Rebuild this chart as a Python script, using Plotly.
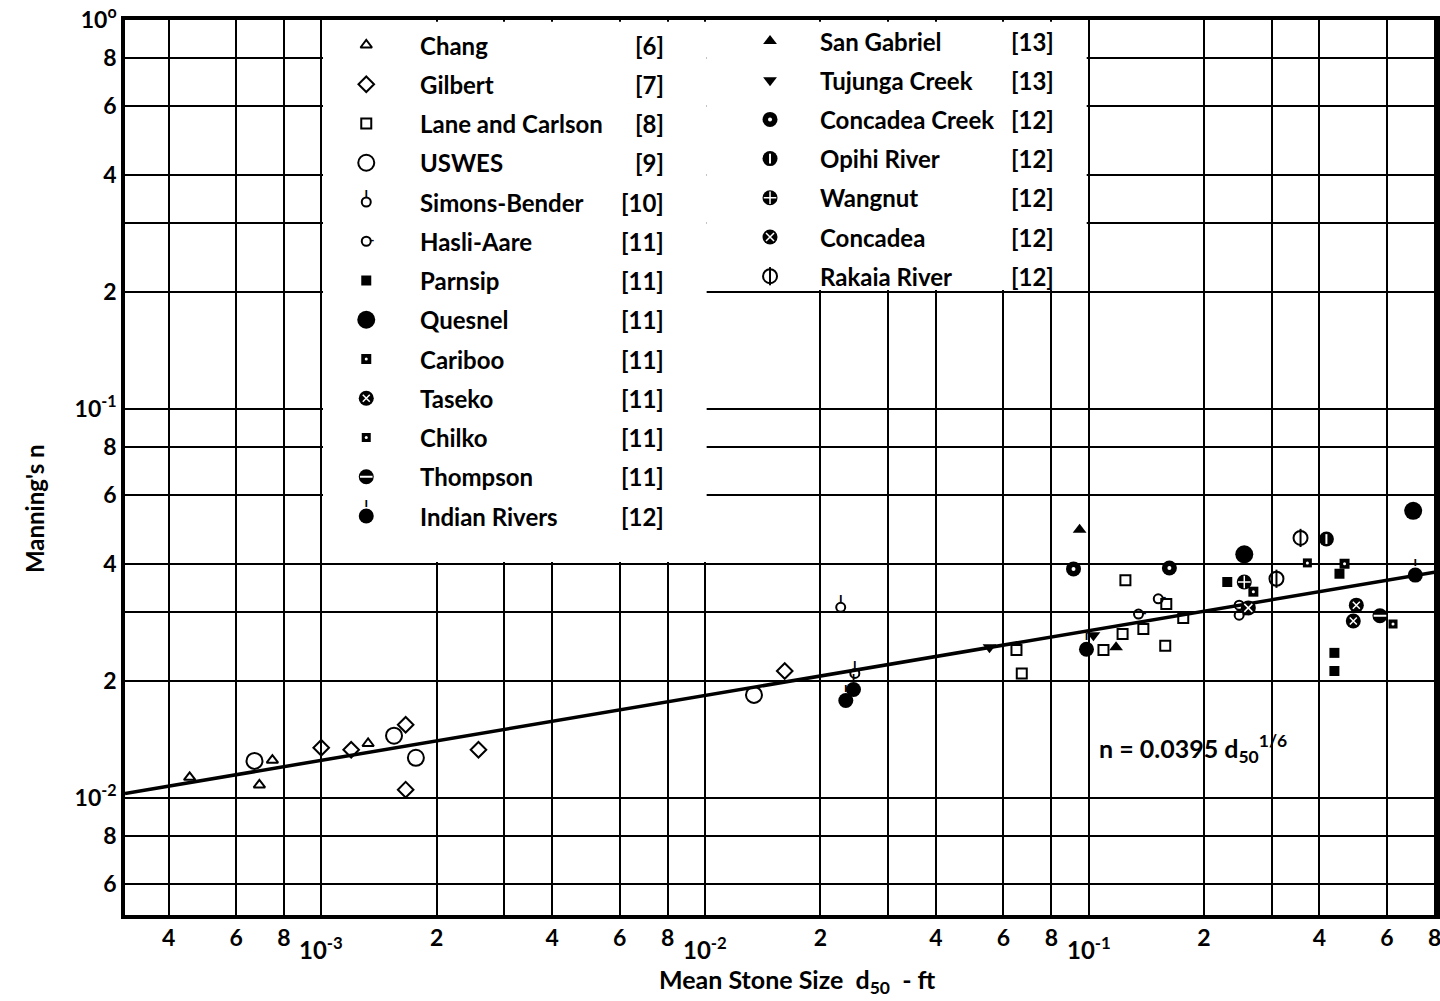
import math
import plotly.graph_objects as go

# ---------------- data ----------------
X_MIN, X_MAX = 3.08e-4, 0.805
Y_MIN, Y_MAX = 0.005, 1.0
COEF = 0.0395          # n = 0.0395 d50^(1/6)
EXPONENT = 1.0 / 6.0

series_names = ["Chang", "Gilbert", "Lane and Carlson", "USWES", "Simons-Bender",
                "Hasli-Aare", "Parnsip", "Quesnel", "Cariboo", "Taseko", "Chilko",
                "Thompson", "Indian Rivers", "San Gabriel", "Tujunga Creek",
                "Concadea Creek", "Opihi River", "Wangnut", "Concadea", "Rakaia River"]
series_refs = ["[6]", "[7]", "[8]", "[9]", "[10]", "[11]", "[11]", "[11]", "[11]", "[11]",
               "[11]", "[11]", "[12]", "[13]", "[13]", "[12]", "[12]", "[12]", "[12]", "[12]"]

chang_x = [4.54e-4, 6.9e-4, 7.46e-4, 1.325e-3]
chang_y = [0.0113, 0.0108, 0.0125, 0.0138]
gilbert_x = [1.0e-3, 1.197e-3, 1.66e-3, 1.66e-3, 2.57e-3, 0.01615]
gilbert_y = [0.01346, 0.0133, 0.01542, 0.0105, 0.0133, 0.0212]
lane_x = [0.0649, 0.067, 0.1094, 0.1227, 0.1248, 0.139, 0.1595, 0.1585, 0.1766]
lane_y = [0.0240, 0.0209, 0.0240, 0.0264, 0.0363, 0.0272, 0.0315, 0.0246, 0.0290]
uswes_x = [6.7e-4, 1.548e-3, 1.765e-3, 0.01343]
uswes_y = [0.01245, 0.01445, 0.01268, 0.0184]
simons_x = [0.0226, 0.0246]
simons_y = [0.0309, 0.0209]
hasli_x = [0.135, 0.152, 0.247, 0.247]
hasli_y = [0.0297, 0.0325, 0.0313, 0.0295]
parnsip_x = [0.230, 0.4375, 0.4375, 0.451]
parnsip_y = [0.0359, 0.0236, 0.0212, 0.0377]
quesnel_x = [0.2547, 0.702]
quesnel_y = [0.0423, 0.0547]
cariboo_x = [0.269, 0.465]
cariboo_y = [0.0339, 0.0400]
taseko_x = [0.499, 0.490]
taseko_y = [0.0313, 0.0285]
chilko_x = [0.372, 0.622]
chilko_y = [0.0402, 0.0280]
thompson_x = [0.575]
thompson_y = [0.0294]
indian_x = [0.0233, 0.0244, 0.0988, 0.711]
indian_y = [0.0178, 0.0190, 0.0241, 0.0374]
sangabriel_x = [0.0948, 0.118]
sangabriel_y = [0.0489, 0.0244]
tujunga_x = [0.0552, 0.103]
tujunga_y = [0.0244, 0.0262]
concadeacreek_x = [0.0914, 0.1625]
concadeacreek_y = [0.0388, 0.0390]
opihi_x = [0.417]
opihi_y = [0.0463]
wangnut_x = [0.2547]
wangnut_y = [0.0359]
concadea_x = [0.261]
concadea_y = [0.0308]
rakaia_x = [0.309, 0.357]
rakaia_y = [0.0366, 0.0466]

series_x = [chang_x, gilbert_x, lane_x, uswes_x, simons_x, hasli_x, parnsip_x, quesnel_x,
            cariboo_x, taseko_x, chilko_x, thompson_x, indian_x, sangabriel_x, tujunga_x,
            concadeacreek_x, opihi_x, wangnut_x, concadea_x, rakaia_x]
series_y = [chang_y, gilbert_y, lane_y, uswes_y, simons_y, hasli_y, parnsip_y, quesnel_y,
            cariboo_y, taseko_y, chilko_y, thompson_y, indian_y, sangabriel_y, tujunga_y,
            concadeacreek_y, opihi_y, wangnut_y, concadea_y, rakaia_y]

x_tick_vals = [4e-4, 6e-4, 8e-4, 1e-3, 2e-3, 3e-3, 4e-3, 6e-3, 8e-3, 1e-2, 2e-2, 3e-2,
               4e-2, 6e-2, 8e-2, 1e-1, 2e-1, 3e-1, 4e-1, 6e-1, 8e-1]
x_tick_text = ["4", "6", "8", "", "2", "", "4", "6", "8", "", "2", "", "4", "6", "8", "",
               "2", "", "4", "6", ""]
x_edge_label_val = 8e-1
x_edge_label_text = "8"
x_decades = [1e-3, 1e-2, 1e-1]
x_decade_text = ["10<sup>-3</sup>", "10<sup>-2</sup>", "10<sup>-1</sup>"]
y_tick_vals = [6e-3, 8e-3, 1e-2, 2e-2, 3e-2, 4e-2, 6e-2, 8e-2, 1e-1, 2e-1, 3e-1, 4e-1,
               6e-1, 8e-1, 1.0]
y_tick_text = ["6", "8", "10<sup>-2</sup>", "2", "", "4", "6", "8", "10<sup>-1</sup>",
               "2", "", "4", "6", "8", "10<sup>o</sup>"]

# ---------------- styles ----------------
K = "black"
W = "white"
FONT = "Lato"
FW = "bold"


def L(symbol, size, color=K, lc=K, lw=2.0):
    return dict(symbol=symbol, size=size, color=color, line=dict(color=lc, width=lw))


styles = {
    "Chang": ([L("triangle-up-open", 10)], None),
    "Gilbert": ([L("diamond-open", 12)], None),
    "Lane and Carlson": ([L("square-open", 10)], None),
    "USWES": ([L("circle-open", 16)], None),
    "Simons-Bender": ([L("circle-open", 9)], "top"),
    "Hasli-Aare": ([L("circle-open", 9)], "right"),
    "Parnsip": ([L("square", 10, lw=0)], None),
    "Quesnel": ([L("circle", 18, lw=0)], None),
    "Cariboo": ([L("square", 10, lw=0), L("circle", 3, color=W, lw=0)], None),
    "Taseko": ([L("circle", 15, lw=0), L("x-thin", 7, color=W, lc=W, lw=1.5)], None),
    "Chilko": ([L("square", 9, lw=0), L("circle", 3, color=W, lw=0)], None),
    "Thompson": ([L("circle", 15, lw=0), L("line-ew", 9, color=W, lc=W, lw=2)], None),
    "Indian Rivers": ([L("circle", 15, lw=0)], "top"),
    "San Gabriel": ([L("triangle-up", 12, lw=0)], None),
    "Tujunga Creek": ([L("triangle-down", 12, lw=0)], None),
    "Concadea Creek": ([L("circle", 15, lw=0), L("circle", 4, color=W, lw=0)], None),
    "Opihi River": ([L("circle", 15, lw=0), L("line-ns", 7, color=W, lc=W, lw=2)], None),
    "Wangnut": ([L("circle", 15, lw=0), L("cross-thin", 9, color=W, lc=W, lw=1.5)], None),
    "Concadea": ([L("circle", 15, lw=0), L("x-thin", 8, color=W, lc=W, lw=1.5)], None),
    "Rakaia River": ([L("circle-open", 14), L("line-ns-open", 13)], None),
}


def add_series(fig, name, xs, ys, xaxis="x", yaxis="y"):
    layers, stem = styles[name]
    for lay in layers:
        fig.add_trace(go.Scatter(x=xs, y=ys, mode="markers", marker=lay, xaxis=xaxis,
                                 yaxis=yaxis, showlegend=False, hoverinfo="skip",
                                 cliponaxis=False))
    if stem == "top":
        fig.add_trace(go.Scatter(x=xs, y=ys, mode="markers+text", text=["ı"] * len(xs),
                                 textposition="top center",
                                 textfont=dict(size=14, color=K, family=FONT, weight=FW),
                                 marker=dict(size=layers[0]["size"] - 8, opacity=0),
                                 xaxis=xaxis, yaxis=yaxis, showlegend=False,
                                 hoverinfo="skip"))
    elif stem == "right":
        fig.add_trace(go.Scatter(x=xs, y=ys, mode="markers+text", text=["-"] * len(xs),
                                 textposition="middle right",
                                 textfont=dict(size=14, color=K, family=FONT, weight=FW),
                                 marker=dict(size=layers[0]["size"] - 6, opacity=0),
                                 xaxis=xaxis, yaxis=yaxis, showlegend=False,
                                 hoverinfo="skip"))


# ---------------- figure geometry ----------------
FIG_W, FIG_H = 1440, 1001
ML, MR, MT, MB = 125, 0, 20, 86
PW, PH = FIG_W - ML - MR, FIG_H - MT - MB


def fx(px):  # pixel -> overlay x fraction
    return (px - ML) / PW


def fy(py):
    return (MT + PH - py) / PH


def ov_x(v):  # log data value -> overlay fraction
    return (math.log10(v) - math.log10(X_MIN)) / (math.log10(X_MAX) - math.log10(X_MIN))


def ov_y(v):
    return (math.log10(v) - math.log10(Y_MIN)) / (math.log10(Y_MAX) - math.log10(Y_MIN))


fig = go.Figure()

# trend line from the stated equation
line_x = [X_MIN, X_MAX]
line_y = [COEF * v ** EXPONENT for v in line_x]
fig.add_trace(go.Scatter(x=line_x, y=line_y, mode="lines", line=dict(color=K, width=3.5),
                         showlegend=False, hoverinfo="skip"))

for name, xs, ys in zip(series_names, series_x, series_y):
    add_series(fig, name, xs, ys)

# white legend panels on the overlay subplot (drawn above the main grid)
inset_x = 1.8 / PW
inset_y = 1.8 / PH
boxes = [(1e-3, 1e-2, 0.04, 1.0), (1e-2, 1e-1, 0.2, 1.0)]
for bi, (bx0, bx1, by0, by1) in enumerate(boxes):
    x0 = ov_x(bx0) + inset_x
    x1 = ov_x(bx1) + (inset_x if bi == 0 else -inset_x)
    y0 = ov_y(by0) + inset_y
    y1 = ov_y(by1) - inset_y
    fig.add_trace(go.Scatter(x=[x0, x1, x1, x0, x0], y=[y0, y0, y1, y1, y0], mode="lines",
                             fill="toself", fillcolor=W, line=dict(width=0, color=W),
                             xaxis="x2", yaxis="y2", showlegend=False, hoverinfo="skip"))

# legend (overlay axes, 0..1)
annotations = []
n_left = 13
TXT = dict(size=24, family=FONT, color=K, weight=FW)
for i, (name, ref) in enumerate(zip(series_names, series_refs)):
    if i < n_left:
        py = 45 + i * 39.25
        mx, tx, rx = 367, 419, 668
    else:
        py = 41 + (i - n_left) * 39.2
        mx, tx, rx = 772, 820, 1059
    add_series(fig, name, [fx(mx)], [fy(py)], xaxis="x2", yaxis="y2")
    annotations.append(dict(x=fx(tx), y=fy(py), xref="x2", yref="y2", text=name,
                            showarrow=False, xanchor="left", yanchor="middle", font=TXT))
    annotations.append(dict(x=fx(rx), y=fy(py), xref="x2", yref="y2", text=ref,
                            showarrow=False, xanchor="right", yanchor="middle", font=TXT))

# x decade labels
for v, t in zip(x_decades, x_decade_text):
    annotations.append(dict(x=math.log10(v), y=-0.037, xref="x", yref="paper", text=t,
                            showarrow=False, xanchor="center", yanchor="middle",
                            font=dict(size=24, family=FONT, color=K, weight=FW)))
# tick label at the clipped right edge
annotations.append(dict(x=math.log10(x_edge_label_val), y=-0.007, xref="x", yref="paper",
                        text=x_edge_label_text, showarrow=False, xanchor="center",
                        yanchor="top",
                        font=dict(size=23, family=FONT, color=K, weight=FW)))

annotations.append(dict(x=fx(1100), y=fy(748), xref="x2", yref="y2",
                        text="n = 0.0395 d<sub>50</sub><sup>1/6</sup>", showarrow=False,
                        xanchor="left", yanchor="middle",
                        font=dict(size=25, family=FONT, color=K, weight=FW)))
annotations.append(dict(x=-0.082, y=fy(508), xref="paper", yref="y2",
                        text="Manning's n", textangle=-90, showarrow=False,
                        font=dict(size=24, family=FONT, color=K, weight=FW)))
annotations.append(dict(x=fx(800), y=-0.074, xref="paper", yref="paper",
                        text="Mean Stone Size  d<sub>50</sub>  - ft", showarrow=False,
                        xanchor="center", yanchor="middle",
                        font=dict(size=25, family=FONT, color=K, weight=FW)))

axis_common = dict(type="log", showgrid=True, gridcolor=K, gridwidth=2.2, showline=True,
                   linecolor=K, linewidth=3.5, mirror=True, ticks="", tickmode="array",
                   tickfont=dict(size=23, family=FONT, color=K, weight=FW), zeroline=False)

fig.update_layout(
    width=FIG_W, height=FIG_H,
    margin=dict(l=ML, r=MR, t=MT, b=MB),
    paper_bgcolor=W, plot_bgcolor=W,
    showlegend=False,
    xaxis=dict(range=[math.log10(X_MIN), math.log10(X_MAX)], tickvals=x_tick_vals,
               ticktext=x_tick_text, **axis_common),
    yaxis=dict(range=[math.log10(Y_MIN), math.log10(Y_MAX)], tickvals=y_tick_vals,
               ticktext=y_tick_text, **axis_common),
    xaxis2=dict(overlaying="x", range=[0, 1], visible=False, fixedrange=True),
    yaxis2=dict(overlaying="y", range=[0, 1], visible=False, fixedrange=True),
    annotations=annotations,
)

fig.write_html("out.html")
